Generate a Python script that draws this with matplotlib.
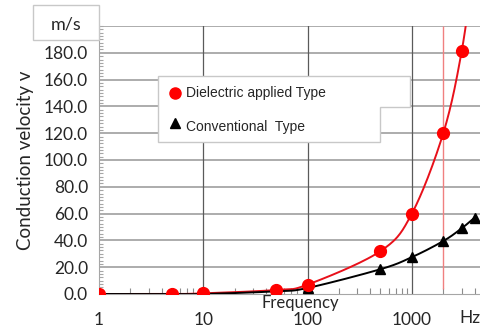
import numpy as np
import matplotlib.pyplot as plt
from matplotlib.patches import Rectangle, Polygon
from matplotlib.ticker import FixedLocator, MultipleLocator, NullFormatter

# measured conduction velocity (m/s) vs. drive frequency (Hz)
freq_diel = [1, 5, 10, 50, 100, 500, 1000, 2000, 3000, 4000]
vel_diel = [0.0, 0.0, 0.5, 3.0, 7.0, 32.0, 60.0, 120.0, 181.0, 250.0]
freq_conv = [1, 5, 10, 50, 100, 500, 1000, 2000, 3000, 4000]
vel_conv = [0.0, 0.0, 0.0, 2.0, 4.5, 18.5, 27.5, 39.5, 49.0, 57.0]
y_ticks = [0, 20, 40, 60, 80, 100, 120, 140, 160, 180]
x_ticks = [1, 10, 100, 1000]
marker_freq = 2000

label_diel = 'Dielectric applied Type'
label_conv = 'Conventional  Type'


def smooth(xs, ys, n=30):
    # Catmull-Rom spline through the points, in log-x space
    lx = np.log10(xs)
    ys = np.asarray(ys, float)
    px = np.concatenate([[2 * lx[0] - lx[1]], lx, [2 * lx[-1] - lx[-2]]])
    py = np.concatenate([[2 * ys[0] - ys[1]], ys, [2 * ys[-1] - ys[-2]]])
    out_x, out_y = [], []
    t = np.linspace(0, 1, n)
    for i in range(1, len(px) - 2):
        for arr, out in ((px, out_x), (py, out_y)):
            p0, p1, p2, p3 = arr[i - 1], arr[i], arr[i + 1], arr[i + 2]
            out.extend(0.5 * ((2 * p1) + (-p0 + p2) * t
                              + (2 * p0 - 5 * p1 + 4 * p2 - p3) * t ** 2
                              + (-p0 + 3 * p1 - 3 * p2 + p3) * t ** 3))
    return 10 ** np.array(out_x), np.array(out_y)


fig = plt.figure(figsize=(4.81, 3.34), dpi=100)
ax = fig.add_axes([99 / 481, 40 / 334, 381 / 481, 268 / 334])

ax.set_xscale('log')
ax.set_xlim(1, 4500)
ax.set_ylim(0, 200)

# grid
for y in y_ticks[1:] + [200]:
    ax.axhline(y, color='#a6a6a6', lw=1.3, zorder=1)
for x in x_ticks[1:]:
    ax.axvline(x, color='#5a5a5a', lw=0.9, zorder=1)

ax.vlines(marker_freq, 4, 200, color='#f08080', lw=1.0, zorder=2)

sx, sy = smooth(freq_diel, vel_diel)
ax.plot(sx, sy, color='#e8101a', lw=1.4, zorder=3)
ax.plot(freq_diel, vel_diel, 'o', color='#ff0000', ms=8.5, zorder=5)
sx, sy = smooth(freq_conv, vel_conv)
ax.plot(sx, sy, color='black', lw=1.4, zorder=3)
ax.plot(freq_conv, vel_conv, '^', color='black', ms=7.5, zorder=4)

for s in ['top', 'right']:
    ax.spines[s].set_visible(False)
ax.spines['left'].set_color('#a6a6a6')
ax.spines['bottom'].set_color('#a6a6a6')

ax.yaxis.set_major_locator(FixedLocator(y_ticks))
ax.yaxis.set_minor_locator(MultipleLocator(2.5))
ax.set_yticklabels([f'{v:.1f}' for v in y_ticks])
ax.xaxis.set_major_locator(FixedLocator(x_ticks))
ax.set_xticklabels([str(v) for v in x_ticks])
ax.xaxis.set_minor_formatter(NullFormatter())
ax.tick_params(axis='both', which='major', length=0, labelsize=12.5,
               labelcolor='#262626')
ax.tick_params(axis='y', which='major', pad=8)
ax.tick_params(axis='x', which='major', pad=13)
ax.tick_params(axis='y', which='minor', direction='in', length=3,
               color='#a6a6a6', width=0.8)
ax.tick_params(axis='x', which='minor', direction='in', length=4,
               color='#8c8c8c', width=0.8)
for lab in ax.get_xticklabels() + ax.get_yticklabels():
    lab.set_fontfamily('Lato')

ax.set_ylabel('Conduction velocity v', fontsize=13.5, family='Lato',
              color='#262626', labelpad=7)

fig.text(300 / 481, 1 - 303 / 334, 'Frequency', ha='center', va='center',
         fontsize=12, family='Lato', color='#262626')
fig.text(470 / 481, 1 - 318 / 334, 'Hz', ha='center', va='center',
         fontsize=12.5, family='Lato', color='#262626')

# "m/s" unit box
fig.patches.append(Rectangle((33 / 481, 1 - 40 / 334), 66 / 481, 35 / 334,
                             transform=fig.transFigure, facecolor='white',
                             edgecolor='#c8c8c8', lw=1, zorder=6))
fig.text(66 / 481, 1 - 24 / 334, 'm/s', ha='center', va='center',
         fontsize=13, family='Lato', color='#262626', zorder=7)

# legend box: wide top row, narrower bottom row
outline = [(158, 76), (410, 76), (410, 107), (380, 107), (380, 142), (158, 142)]
fig.patches.append(Polygon([(px / 481, 1 - py / 334) for px, py in outline],
                           closed=True, transform=fig.transFigure,
                           facecolor='white', edgecolor='#c8c8c8', lw=1,
                           zorder=6))
fig.lines.append(plt.Line2D([175 / 481], [1 - 93 / 334], marker='o',
                            color='#ff0000', ms=8, transform=fig.transFigure,
                            zorder=7))
fig.text(186 / 481, 1 - 93 / 334, label_diel, ha='left', va='center',
         fontsize=10, family='Liberation Sans', color='#262626', zorder=7)
fig.lines.append(plt.Line2D([175 / 481], [1 - 123 / 334], marker='^',
                            color='black', ms=6.5, transform=fig.transFigure,
                            zorder=7))
fig.text(186 / 481, 1 - 127 / 334, label_conv, ha='left', va='center',
         fontsize=10, family='Liberation Sans', color='#262626', zorder=7)

fig.savefig('out.png', dpi=100)
